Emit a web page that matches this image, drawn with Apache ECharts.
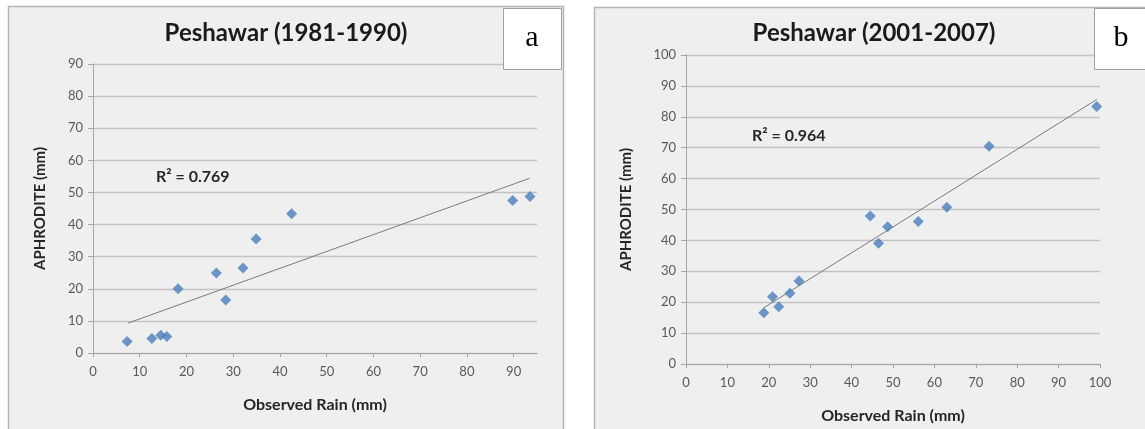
<!DOCTYPE html>
<html>
<head>
<meta charset="utf-8">
<script src="https://cdn.jsdelivr.net/npm/echarts@6/dist/echarts.min.js"></script>
<style>
  html, body { margin: 0; padding: 0; background: #ffffff; }
  #chart { width: 1145px; height: 429px; }
</style>
</head>
<body>
<div id="chart"></div>
<script>
// ---- Data ----
const titleA = 'Peshawar (1981-1990)';
const titleB = 'Peshawar (2001-2007)';
const xNameText = 'Observed Rain (mm)';
const yNameText = 'APHRODITE (mm)';
const r2A = 'R² = 0.769';
const r2B = 'R² = 0.964';
const panelLetterA = 'a';
const panelLetterB = 'b';

// Panel a: observed (x) vs APHRODITE (y)
const obsA  = [7.3, 12.6, 14.5, 15.8, 18.2, 26.4, 28.4, 32.1, 34.9, 42.5, 89.8, 93.5];
const aphA  = [3.6, 4.5, 5.5, 5.1, 20.0, 24.9, 16.5, 26.5, 35.5, 43.4, 47.5, 48.7];
const trendAx = [7.5, 93.4];
const trendAy = [9.3, 54.4];

// Panel b
const obsB  = [18.8, 20.9, 22.4, 25.1, 27.3, 44.5, 46.5, 48.7, 56.1, 63.0, 73.2, 99.2];
const aphB  = [16.6, 21.8, 18.5, 22.9, 26.9, 47.9, 39.1, 44.4, 46.1, 50.7, 70.5, 83.3];
const trendBx = [18.8, 99.2];
const trendBy = [18.2, 85.6];

// Tick labels
const xTicksA = [0, 10, 20, 30, 40, 50, 60, 70, 80, 90];
const yTicksA = [0, 10, 20, 30, 40, 50, 60, 70, 80, 90];
const xTicksB = [0, 10, 20, 30, 40, 50, 60, 70, 80, 90, 100];
const yTicksB = [0, 10, 20, 30, 40, 50, 60, 70, 80, 90, 100];

// ---- Build ----
const pairs = (xs, ys) => xs.map((x, i) => [x, ys[i]]);

const FONT = 'Lato';
const labelColor = '#595959';
const nameColor = '#262626';
const gridColor = '#c3c3c3';
const axisColor = '#a6a6a6';
const markerColor = '#4a7ebb';

function xAxisDef(gridIndex, max, ticks, gap) {
  return {
    type: 'value', gridIndex, min: 0, max, interval: 10,
    name: xNameText, nameLocation: 'middle', nameGap: gap,
    nameTextStyle: { fontFamily: FONT, fontWeight: 'bold', fontSize: 16, color: nameColor },
    axisLine: { show: true, lineStyle: { color: axisColor, width: 1 } },
    axisTick: { show: true, length: 4, lineStyle: { color: axisColor }, customValues: ticks },
    axisLabel: { fontFamily: FONT, fontSize: 13, color: labelColor, margin: 12, customValues: ticks },
    splitLine: { show: false }
  };
}
function yAxisDef(gridIndex, max, ticks, gap) {
  return {
    type: 'value', gridIndex, min: 0, max, interval: 10,
    name: yNameText, nameLocation: 'middle', nameGap: gap, nameRotate: 90,
    nameTextStyle: { fontFamily: FONT, fontWeight: 'bold', fontSize: 15, color: nameColor },
    axisLine: { show: true, lineStyle: { color: axisColor, width: 1 } },
    axisTick: { show: true, length: 5, lineStyle: { color: axisColor }, customValues: ticks },
    axisLabel: { fontFamily: FONT, fontSize: 13, color: labelColor, margin: 10, customValues: ticks },
    splitLine: { show: true, lineStyle: { color: gridColor, width: 1.3 } }
  };
}

const chart = echarts.init(document.getElementById('chart'));
chart.setOption({
  animation: false,
  backgroundColor: '#ffffff',
  grid: [
    { left: 93, top: 64, width: 444, height: 289 },
    { left: 686, top: 55, width: 414, height: 312 }
  ],
  xAxis: [
    xAxisDef(0, 95, xTicksA, 44),
    xAxisDef(1, 100, xTicksB, 44)
  ],
  yAxis: [
    yAxisDef(0, 90, yTicksA, 45),
    yAxisDef(1, 100, yTicksB, 52)
  ],
  graphic: [
    { type: 'rect', z: -10, shape: { x: 8.5, y: 6.5, width: 555, height: 440 },
      style: { fill: '#efefef', stroke: '#b5b5b5', lineWidth: 1.5 } },
    { type: 'rect', z: -10, shape: { x: 594.5, y: 7.5, width: 570, height: 440 },
      style: { fill: '#efefef', stroke: '#b5b5b5', lineWidth: 1.5 } },
    { type: 'rect', z: 10, shape: { x: 503.5, y: 8.5, width: 58, height: 61 },
      style: { fill: '#ffffff', stroke: '#a0a0a0', lineWidth: 1 } },
    { type: 'rect', z: 10, shape: { x: 1094.5, y: 8.5, width: 60, height: 61 },
      style: { fill: '#ffffff', stroke: '#a0a0a0', lineWidth: 1 } },
    { type: 'text', z: 11, x: 532, y: 38,
      style: { text: panelLetterA, font: '30px "Liberation Serif"', fill: '#000', align: 'center', verticalAlign: 'middle' } },
    { type: 'text', z: 11, x: 1121, y: 38,
      style: { text: panelLetterB, font: '30px "Liberation Serif"', fill: '#000', align: 'center', verticalAlign: 'middle' } },
    { type: 'text', z: 5, x: 286, y: 33,
      style: { text: titleA, font: 'bold 24px Lato', fill: '#1a1a1a', align: 'center', verticalAlign: 'middle' } },
    { type: 'text', z: 5, x: 874, y: 33,
      style: { text: titleB, font: 'bold 24px Lato', fill: '#1a1a1a', align: 'center', verticalAlign: 'middle' } },
    { type: 'text', z: 5, x: 156, y: 177,
      style: { text: r2A, font: 'bold 16px Lato', fill: '#262626', align: 'left', verticalAlign: 'middle' } },
    { type: 'text', z: 5, x: 752, y: 136,
      style: { text: r2B, font: 'bold 16px Lato', fill: '#262626', align: 'left', verticalAlign: 'middle' } }
  ],
  series: [
    { type: 'line', xAxisIndex: 0, yAxisIndex: 0, data: pairs(trendAx, trendAy),
      showSymbol: false, lineStyle: { color: '#7a7a7a', width: 1 }, z: 2 },
    { type: 'scatter', xAxisIndex: 0, yAxisIndex: 0, data: pairs(obsA, aphA),
      symbol: 'diamond', symbolSize: 11, itemStyle: { color: markerColor }, z: 3 },
    { type: 'line', xAxisIndex: 1, yAxisIndex: 1, data: pairs(trendBx, trendBy),
      showSymbol: false, lineStyle: { color: '#7a7a7a', width: 1 }, z: 2 },
    { type: 'scatter', xAxisIndex: 1, yAxisIndex: 1, data: pairs(obsB, aphB),
      symbol: 'diamond', symbolSize: 11, itemStyle: { color: markerColor }, z: 3 }
  ]
});
</script>
</body>
</html>
